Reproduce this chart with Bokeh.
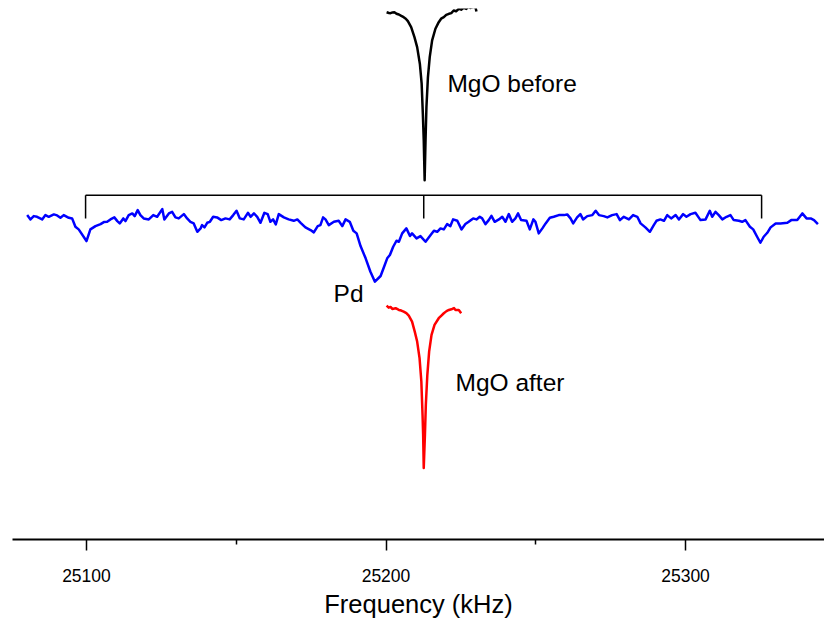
from bokeh.plotting import figure
from bokeh.models import Range1d, FixedTicker
from bokeh.core.properties import value
from bokeh.embed import file_html
from bokeh.resources import INLINE

# ---- data (frequency in kHz, intensity in arbitrary units) ----
pd_freq = [25080.2, 25081.3, 25082.4, 25083.5, 25085.2, 25086.3, 25087.4, 25089.1, 25090.2, 25091.3,
           25092.4, 25094.1, 25095.2, 25096.3, 25097.4, 25100.0, 25101.3, 25103.0, 25104.7, 25105.8,
           25106.9, 25108.0, 25109.3, 25110.3, 25111.1, 25112.3, 25113.0, 25114.1, 25115.3, 25116.1,
           25117.1, 25118.0, 25119.1, 25120.8, 25122.3, 25123.6, 25125.3, 25126.0, 25127.5, 25128.6,
           25129.7, 25130.8, 25132.5, 25133.6, 25134.7, 25135.8, 25137.0, 25138.1, 25138.6, 25139.4,
           25140.3, 25141.2, 25142.3, 25143.6, 25145.0, 25146.4, 25147.8, 25149.0, 25150.1, 25151.2,
           25152.5, 25153.9, 25154.8, 25155.9, 25157.0, 25158.1, 25159.4, 25160.5, 25161.4, 25162.3,
           25163.2, 25164.2, 25165.9, 25167.5, 25169.2, 25170.4, 25171.5, 25173.1, 25174.8, 25175.9,
           25177.2, 25178.1, 25179.0, 25179.8, 25180.9, 25182.6, 25184.2, 25185.4, 25186.5, 25187.9,
           25189.1, 25190.2, 25191.5, 25193.2, 25194.8, 25196.3, 25198.2, 25199.3, 25200.4, 25201.3,
           25202.4, 25203.5, 25204.3, 25205.4, 25206.8, 25208.0, 25208.7, 25210.2, 25211.5, 25213.2,
           25214.9, 25216.0, 25217.1, 25218.2, 25219.3, 25220.4, 25221.5, 25222.4, 25223.8, 25225.2,
           25226.5, 25227.6, 25229.1, 25230.2, 25231.3, 25232.1, 25233.2, 25234.3, 25235.2, 25236.3,
           25237.7, 25238.8, 25239.9, 25241.0, 25242.1, 25243.2, 25244.1, 25245.1, 25246.9, 25248.0,
           25249.2, 25249.9, 25251.0, 25252.2, 25253.3, 25254.7, 25256.0, 25257.7, 25259.4, 25260.5,
           25261.6, 25262.5, 25263.8, 25264.9, 25265.8, 25267.2, 25268.9, 25270.0, 25271.1, 25272.7,
           25273.9, 25275.5, 25277.0, 25278.1, 25279.4, 25281.1, 25282.5, 25283.9, 25285.0, 25286.6,
           25288.1, 25289.4, 25290.3, 25291.6, 25292.8, 25293.9, 25295.2, 25296.7, 25297.8, 25299.2,
           25300.3, 25301.7, 25303.3, 25305.0, 25306.7, 25308.1, 25308.9, 25310.0, 25311.1, 25312.3,
           25313.7, 25315.0, 25316.1, 25317.8, 25318.9, 25320.0, 25321.5, 25322.6, 25323.9, 25325.0,
           25326.1, 25327.3, 25328.4, 25330.1, 25331.7, 25334.0, 25335.3, 25337.3, 25339.0, 25340.4,
           25341.8, 25342.9, 25344.2]
pd_int = [0, -4.3, -1, -1.7, -4.3, 0, -1.7, 0.7, -0.3, -2.7,
          0, -2.7, -3.3, -11.7, -14.3, -26, -14.3, -11, -9, -7,
          -6.7, -4.3, -2.3, -6, -8.3, -3.3, -6, 0, 1.7, -1,
          5, 0, -3.3, -4.3, 0, -1.7, 6, -4.3, 1.7, 3.3,
          -2.3, -3.3, 1, -3.3, -6.7, -8.3, -16.7, -13.3, -10, -12.3,
          -7.7, -6.7, -1.7, -2.3, -5, -3.3, -4.3, 0, 4.3, -3.3,
          -4.3, 2.3, -1.7, 1.7, -1.7, -7.7, 2.3, 1, -6.7, -4.3,
          -9.3, 1, -2.3, -4.3, -5.7, -4.3, -7.7, -12.3, -15, -17.3,
          -11, -10, -2.3, -4.3, -10, -6.7, -5.7, -11, -4.3, -6.7,
          -15.7, -18.3, -31, -43.3, -56.7, -66.7, -61, -52.3, -43.3, -40,
          -31.7, -25.7, -26.7, -18.3, -13.3, -21, -18.3, -23.3, -21, -26.7,
          -20, -15.7, -16.7, -13.3, -14.3, -9, -11, -4.3, -5.7, -14.3,
          -9, -6.7, -3.3, -4.3, -1.7, -3.3, -9, -5, -0.7, -6.7,
          -4.3, -1.7, -6.7, 1, -6.7, -3.3, 1.7, -5, -5.7, -14.3,
          -4.3, -6.7, -18.3, -13.3, -8.3, -2.7, -1.7, 0, 0, 0.7,
          -3.3, -8.3, -2.3, 1, -4.3, -1, 0, 4.3, 0, -1,
          -2.3, 0, 1, -5, -1.7, -4.3, 0, -1.7, -8.3, -12.3,
          -16.7, -10, -5.7, -4.3, -5.7, 0, -3.3, 0, -4.3, 1,
          -1.7, 1, 2.3, -5, -4.3, 4.3, -1.7, 3.3, 0, -4.3,
          -1.7, 0, -5, -5.7, -6.7, -5, -11.7, -14.3, -21.7, -27.7,
          -21.7, -17.7, -12.3, -8.3, -8.3, -7.7, -5, -5, 1.7, -3.3,
          -3.3, -5, -9]

before_freq = [25200.2, 25201.0, 25201.5, 25202.2, 25202.8, 25203.5, 25204.3, 25205.1, 25205.9, 25206.6,
               25207.3, 25208.4, 25209.5, 25210.4, 25211.3, 25211.9, 25212.3, 25212.6, 25212.9, 25213.2,
               25213.5, 25214.0, 25214.6, 25215.4, 25216.5, 25217.6, 25218.4, 25219.3, 25220.1, 25221.0,
               25221.8, 25222.6, 25223.4, 25224.3, 25225.1, 25226.0, 25226.8, 25227.6, 25228.2, 25228.8,
               25229.4, 25229.9, 25230.2]
before_int = [-3.7, -4.5, -4.7, -3.9, -3.7, -5.2, -6, -7.4, -8.7, -10.2,
              -12.7, -18.7, -28.7, -38.7, -55.3, -75.3, -105.3, -132, -172, -132,
              -98.7, -68.7, -48.7, -32, -20.3, -13.7, -10.2, -8.7, -6.4, -5.3,
              -4.6, -2, -2.8, -0.3, -1.2, 0.7, -0.4, 2, 0.6, 1.3,
              1.8, 0.7, -3]

after_freq = [25200.2, 25200.9, 25201.5, 25202.1, 25203.2, 25204.3, 25205.1, 25205.9, 25206.8, 25207.6,
              25208.7, 25209.6, 25210.4, 25211.2, 25211.8, 25212.2, 25212.4, 25212.6, 25213.0, 25213.3,
              25213.8, 25214.4, 25215.2, 25216.2, 25217.6, 25218.5, 25219.3, 25220.2, 25221.0, 25222.1,
              25222.7, 25223.2, 25224.3, 25225.1]
after_int = [0.3, -1.7, -1.0, -3, -2.3, -4, -4.6, -5.7, -7.2, -9.7,
             -15.7, -25.7, -35.7, -52.3, -75.7, -109, -129, -162.3, -129, -99,
             -69, -45.7, -29, -19, -12.3, -9.6, -7.3, -5.2, -4, -3,
             -2.2, -4, -4, -7.3]

# peak positions marked by the bracket over the Pd spectrum
bracket_freq = [25099.7, 25212.6, 25325.4]

labels = ["MgO before", "Pd", "MgO after"]
x_ticks = [25100, 25200, 25300]
minor_ticks = [25150, 25250]

# vertical offsets of the stacked spectra
off_before, off_pd, off_after = 532, 325, 234
bracket_top, bracket_bottom = 20, -3.3

p = figure(width=824, height=620, output_backend="svg", toolbar_location=None,
           x_range=Range1d(25075.3, 25346.4), y_range=Range1d(0, 532),
           min_border_left=12, min_border_right=0, min_border_top=8, min_border_bottom=80,
           y_axis_location=None)
p.outline_line_color = None
p.grid.visible = False
p.background_fill_color = "white"
p.border_fill_color = "white"

p.line(pd_freq, [v + off_pd for v in pd_int], line_color="#0000ff", line_width=2.5, line_join="round")
p.line(before_freq, [v + off_before for v in before_int], line_color="black", line_width=2.5, line_join="round")
p.line(after_freq, [v + off_after for v in after_int], line_color="#ff0000", line_width=2.5, line_join="round")

# bracket
p.line([bracket_freq[0], bracket_freq[-1]], [off_pd + bracket_top] * 2, line_color="black", line_width=1.5)
p.segment(x0=bracket_freq, y0=[off_pd + bracket_top] * 3, x1=bracket_freq,
          y1=[off_pd + bracket_bottom] * 3, line_color="black", line_width=1.5)

label_x = [25220.5, 25182.5, 25223.2]
label_y = [457.3, 246.3, 157.7]
p.text(x=label_x, y=label_y, text=labels, text_font=value("Liberation Sans"),
       text_font_size="24.5px", text_color="black", text_align="left", text_baseline="alphabetic")

ax = p.xaxis[0]
ax.ticker = FixedTicker(ticks=x_ticks, minor_ticks=minor_ticks)
ax.axis_label = "Frequency (kHz)"
ax.axis_label_text_font = "Liberation Sans"
ax.axis_label_text_font_size = "25.5px"
ax.axis_label_text_font_style = "normal"
ax.axis_label_text_color = "black"
ax.axis_label_standoff = 5
ax.major_label_text_font = "Liberation Sans"
ax.major_label_text_font_size = "17.5px"
ax.major_label_text_color = "black"
ax.major_label_standoff = 18
ax.axis_line_width = 2
ax.axis_line_color = "black"
ax.major_tick_line_width = 1.5
ax.minor_tick_line_width = 1.5
ax.major_tick_out = 11
ax.major_tick_in = 0
ax.minor_tick_out = 5
ax.minor_tick_in = 0

open("out.html", "w").write(file_html(p, INLINE))
